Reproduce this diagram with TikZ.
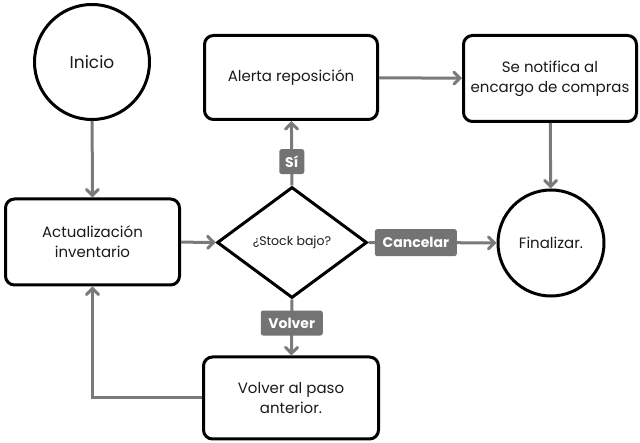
\documentclass[tikz,border=0pt]{standalone}
\usepackage{fontspec}
\setmainfont{Poppins}
\usetikzlibrary{shapes.geometric,arrows.meta}
\definecolor{conn}{HTML}{7A7A7A}
\definecolor{tagfill}{HTML}{737373}
\definecolor{ink}{HTML}{1A1A1A}
\tikzset{
  base/.style={draw=black,line width=3pt,fill=white,text=ink,font=\fontsize{15}{20}\selectfont,align=center,inner sep=0pt},
  proc/.style={base,rectangle,rounded corners=9pt},
  term/.style={base,circle},
  decide/.style={base,diamond,font=\fontsize{12.5}{15}\selectfont},
  arr/.style={draw=conn,line width=3pt,-{Straight Barb[length=6pt,width=12pt,line cap=round,line width=3pt]}},
  tag/.style={fill=tagfill,rounded corners=2.5pt,text=white,font=\bfseries\fontsize{14}{16}\selectfont,inner sep=0pt}
}
\begin{document}
\begin{tikzpicture}[x=1pt,y=-1pt]
\useasboundingbox[fill=white] (0,0) rectangle (640,443);

% terminals
\node[term,minimum size=115pt,font=\fontsize{17}{20}\selectfont] (inicio) at (92,62) {Inicio};
\node[term,minimum size=106pt] (fin) at (551,243) {Finalizar.};

% process boxes
\node[proc,minimum width=173pt,minimum height=84pt] (alerta) at (291,77.5) {Alerta reposición};
\node[proc,minimum width=173pt,minimum height=86pt] (notif) at (550,78.5) {Se notifica al\\encargo de compras};
\node[proc,minimum width=174pt,minimum height=86pt] (act) at (92.5,242) {Actualización\\inventario};
\node[proc,minimum width=175pt,minimum height=82pt] (volver) at (291,398) {Volver al paso\\anterior.};

% decision
\node[decide,minimum width=150pt,minimum height=111pt] (dec) at (292,242.5) {¿Stock bajo?};

% connectors
\draw[arr] (inicio) -- (act);
\draw[arr] (act) -- (dec);
\draw[arr] (alerta) -- (notif);
\draw[arr] (notif) -- (fin);
\draw[arr] (dec.north) -- node[tag,pos=0.37,minimum width=25pt,minimum height=25pt] (tsi) {Sí} (alerta);
\draw[arr] (dec.east) -- node[tag,pos=0.37,minimum width=82pt,minimum height=27pt] (tcancel) {Cancelar} (fin);
\draw[arr] (dec.south) -- node[tag,pos=0.42,minimum width=62pt,minimum height=25pt] (tvolver) {Volver} (volver);
\coordinate (back) at (act.south |- volver.west);
\draw[arr] (volver.west) -- (back) -- (act.south);
\end{tikzpicture}
\end{document}
